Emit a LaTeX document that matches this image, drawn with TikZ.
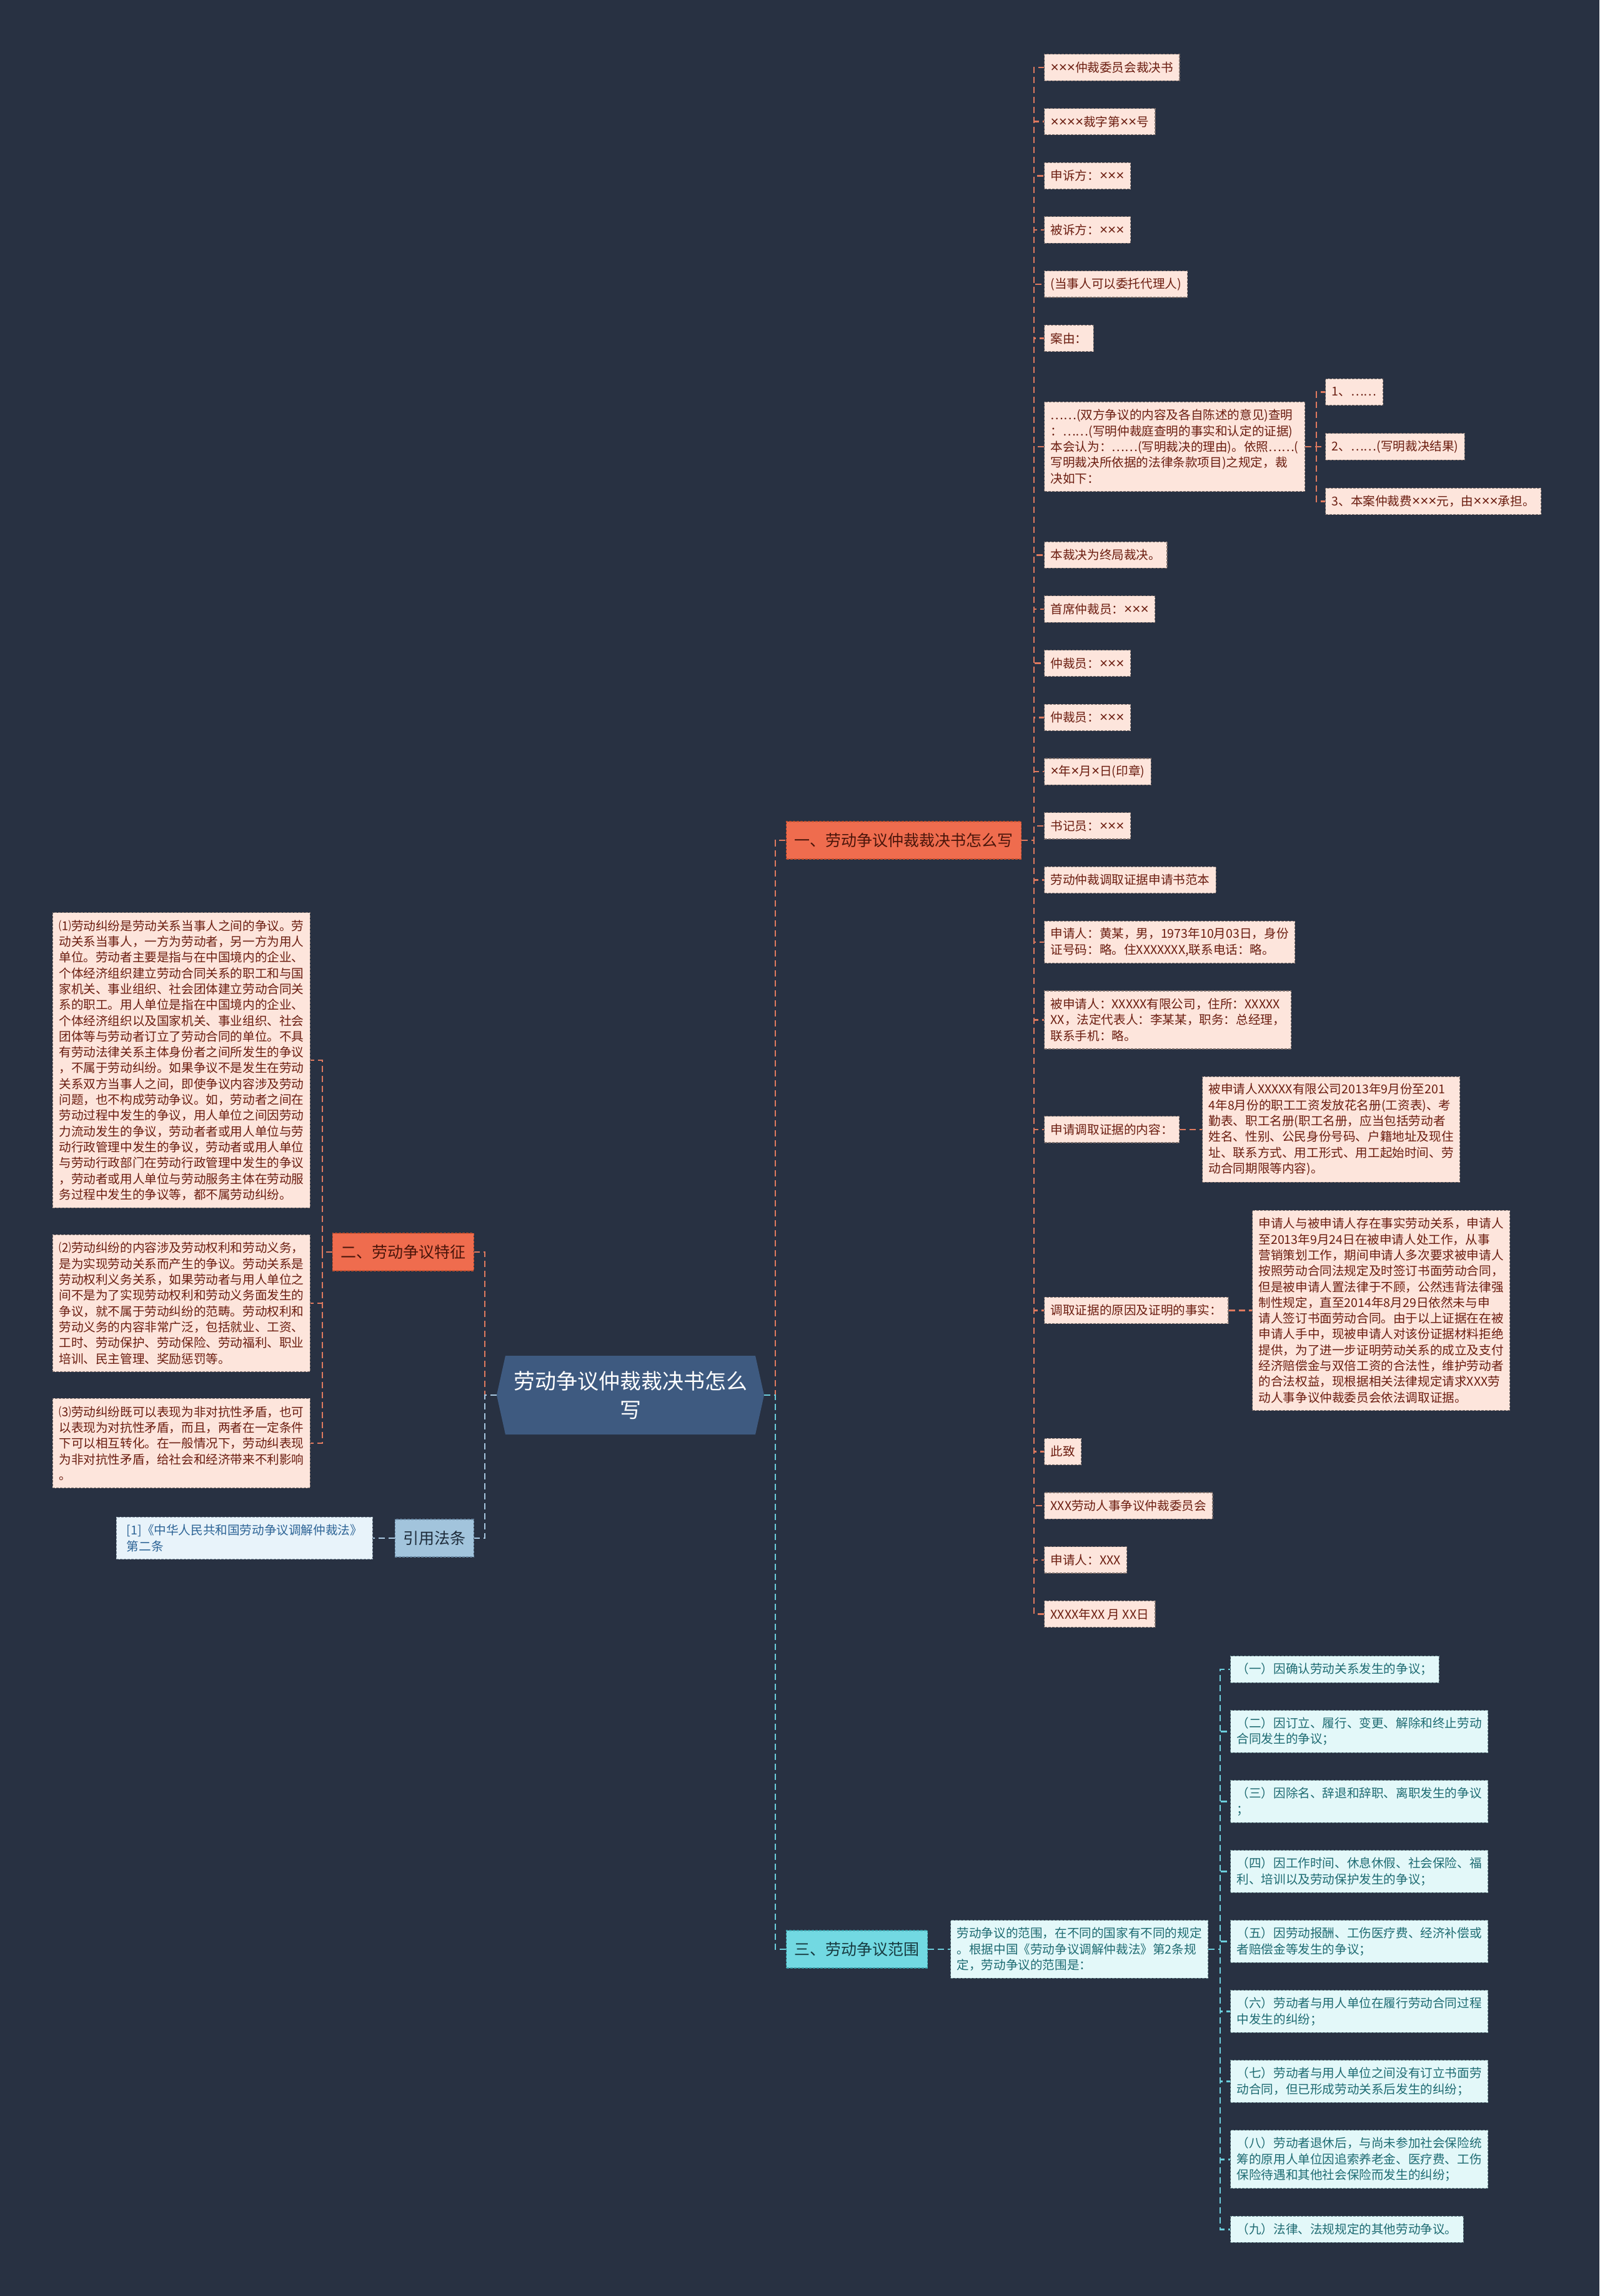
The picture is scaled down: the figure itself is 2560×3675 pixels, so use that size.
\documentclass[tikz,border=0pt]{standalone}
\usepackage{fontspec}
\setmainfont{Noto Sans CJK SC}
\newfontfamily\xf[Scale=1.15]{Liberation Sans}
\newcommand\X{{\xf ×}}
\usetikzlibrary{shapes.symbols}
\definecolor{bg}{HTML}{283142}
\definecolor{cR}{HTML}{E07A5F}
\definecolor{cC}{HTML}{6CCFDD}
\definecolor{cB}{HTML}{A9C9E2}
\definecolor{bonef}{HTML}{EF6C4E}
\definecolor{bonet}{HTML}{4A150A}
\definecolor{boned}{HTML}{C4502F}
\definecolor{lfR}{HTML}{FDE5DC}
\definecolor{txR}{HTML}{6B1D10}
\definecolor{bdR}{HTML}{7D6F6B}
\definecolor{bthf}{HTML}{72D9E2}
\definecolor{btht}{HTML}{173A40}
\definecolor{bthd}{HTML}{3C9FA8}
\definecolor{lfC}{HTML}{E3F8F9}
\definecolor{txC}{HTML}{1E6B72}
\definecolor{bdC}{HTML}{6E8E92}
\definecolor{rootf}{HTML}{3E5A80}
\definecolor{reff}{HTML}{A2C4DC}
\definecolor{reft}{HTML}{1D2B3A}
\definecolor{refd}{HTML}{6B8BA6}
\definecolor{rcf}{HTML}{E8F3FA}
\definecolor{rct}{HTML}{2D6496}
\definecolor{rcd}{HTML}{8A9AA8}
\begin{document}
\begin{tikzpicture}[x=1pt,y=-1pt,
  leaf/.style={line width=1.2pt, dash pattern=on 4pt off 2pt, inner xsep=10pt, inner ysep=0pt, align=left, anchor=west, font=\fontsize{19.6pt}{25.3pt}\selectfont, minimum height=42.3pt},
  nl/.style={minimum height={#1*25.3pt+17pt}},
  leafR/.style={leaf, fill=lfR, text=txR, draw=bdR},
  leafC/.style={leaf, fill=lfC, text=txC, draw=bdC},
  leafB/.style={leaf, fill=rcf, text=rct, draw=rcd},
  branch/.style={line width=1.2pt, dash pattern=on 4pt off 2pt, inner xsep=13pt, minimum height=60pt, font=\fontsize{25pt}{30pt}\selectfont},
  conR/.style={draw=cR, line width=2.5pt, dash pattern=on 10pt off 6pt},
  conC/.style={draw=cC, line width=2.5pt, dash pattern=on 10pt off 6pt},
  conB/.style={draw=cB, line width=2.5pt, dash pattern=on 10pt off 6pt}
]
\fill[bg] (0,0) rectangle (2560,3675);
\useasboundingbox (0,0) rectangle (2560,3675);

% root
\node[signal, signal to=west and east, signal pointer angle=155, minimum width=428pt, minimum height=126pt, fill=rootf, text=white, align=center, font=\fontsize{34pt}{46pt}\selectfont] (root) at (1009,2233) {劳动争议仲裁裁决书怎么\\写};

% branches
\node[branch, fill=bonef, text=bonet, draw=boned, anchor=west] (b1) at (1258,1345) {一、劳动争议仲裁裁决书怎么写};
\node[branch, fill=bonef, text=bonet, draw=boned, anchor=east] (b2) at (759,2004) {二、劳动争议特征};
\node[branch, fill=bthf, text=btht, draw=bthd, anchor=west] (b3) at (1258,3120) {三、劳动争议范围};
\node[branch, fill=reff, text=reft, draw=refd, anchor=east] (ref) at (759,2462) {引用法条};

% branch 1 leaves
\node[leafR] (n1) at (1671,108) {\X\X\X 仲裁委员会裁决书};
\node[leafR] (n2) at (1671,194.7) {\X\X\X\X 裁字第\X\X 号};
\node[leafR] (n3) at (1671,281.4) {申诉方：\X\X\X};
\node[leafR] (n4) at (1671,368) {被诉方：\X\X\X};
\node[leafR] (n5) at (1671,454.8) {(当事人可以委托代理人)};
\node[leafR] (n6) at (1671,541.5) {案由：};
\node[leafR, nl=5] (n7) at (1671,715) {……(双方争议的内容及各自陈述的意见)查明\\：……(写明仲裁庭查明的事实和认定的证据)\\本会认为：……(写明裁决的理由)。依照……(\\写明裁决所依据的法律条款项目)之规定，裁\\决如下：};
\node[leafR] (n7a) at (2121,627.5) {1、……};
\node[leafR] (n7b) at (2121,715) {2、……(写明裁决结果)};
\node[leafR] (n7c) at (2121,802.5) {3、本案仲裁费\X\X\X 元，由\X\X\X 承担。};
\node[leafR] (n8) at (1671,888.3) {本裁决为终局裁决。};
\node[leafR] (n9) at (1671,975) {首席仲裁员：\X\X\X};
\node[leafR] (n10) at (1671,1061.7) {仲裁员：\X\X\X};
\node[leafR] (n11) at (1671,1148.4) {仲裁员：\X\X\X};
\node[leafR] (n12) at (1671,1235.1) {\X 年\X 月\X 日(印章)};
\node[leafR] (n13) at (1671,1321.8) {书记员：\X\X\X};
\node[leafR] (n14) at (1671,1408.5) {劳动仲裁调取证据申请书范本};
\node[leafR, nl=2] (n15) at (1671,1508) {申请人：黄某，男，1973年10月03日，身份\\证号码：略。住XXXXXXX,联系电话：略。};
\node[leafR, nl=3] (n16) at (1671,1632.5) {被申请人：XXXXX有限公司，住所：XXXXX\\XX，法定代表人：李某某，职务：总经理，\\联系手机：略。};
\node[leafR] (n17) at (1671,1807.8) {申请调取证据的内容：};
\node[leafR, nl=6] (n17a) at (1924,1807.8) {被申请人XXXXX有限公司2013年9月份至201\\4年8月份的职工工资发放花名册(工资表)、考\\勤表、职工名册(职工名册，应当包括劳动者\\姓名、性别、公民身份号码、户籍地址及现住\\址、联系方式、用工形式、用工起始时间、劳\\动合同期限等内容)。};
\node[leafR] (n18) at (1671,2097.5) {调取证据的原因及证明的事实：};
\node[leafR, nl=12] (n18a) at (2004,2097.5) {申请人与被申请人存在事实劳动关系，申请人\\至2013年9月24日在被申请人处工作，从事\\营销策划工作，期间申请人多次要求被申请人\\按照劳动合同法规定及时签订书面劳动合同，\\但是被申请人置法律于不顾，公然违背法律强\\制性规定，直至2014年8月29日依然未与申\\请人签订书面劳动合同。由于以上证据在在被\\申请人手中，现被申请人对该份证据材料拒绝\\提供，为了进一步证明劳动关系的成立及支付\\经济赔偿金与双倍工资的合法性，维护劳动者\\的合法权益，现根据相关法律规定请求XXX劳\\动人事争议仲裁委员会依法调取证据。};
\node[leafR] (n19) at (1671,2323.5) {此致};
\node[leafR] (n20) at (1671,2410.2) {XXX劳动人事争议仲裁委员会};
\node[leafR] (n21) at (1671,2496.9) {申请人：XXX};
\node[leafR] (n22) at (1671,2583.6) {XXXX年XX 月 XX日};

% branch 2 leaves
\node[leafR, anchor=east, nl=18] (l1) at (497,1697) {⑴劳动纠纷是劳动关系当事人之间的争议。劳\\动关系当事人，一方为劳动者，另一方为用人\\单位。劳动者主要是指与在中国境内的企业、\\个体经济组织建立劳动合同关系的职工和与国\\家机关、事业组织、社会团体建立劳动合同关\\系的职工。用人单位是指在中国境内的企业、\\个体经济组织以及国家机关、事业组织、社会\\团体等与劳动者订立了劳动合同的单位。不具\\有劳动法律关系主体身份者之间所发生的争议\\，不属于劳动纠纷。如果争议不是发生在劳动\\关系双方当事人之间，即使争议内容涉及劳动\\问题，也不构成劳动争议。如，劳动者之间在\\劳动过程中发生的争议，用人单位之间因劳动\\力流动发生的争议，劳动者者或用人单位与劳\\动行政管理中发生的争议，劳动者或用人单位\\与劳动行政部门在劳动行政管理中发生的争议\\，劳动者或用人单位与劳动服务主体在劳动服\\务过程中发生的争议等，都不属劳动纠纷。};
\node[leafR, anchor=east, nl=8] (l2) at (497,2086) {⑵劳动纠纷的内容涉及劳动权利和劳动义务，\\是为实现劳动关系而产生的争议。劳动关系是\\劳动权利义务关系，如果劳动者与用人单位之\\间不是为了实现劳动权利和劳动义务面发生的\\争议，就不属于劳动纠纷的范畴。劳动权利和\\劳动义务的内容非常广泛，包括就业、工资、\\工时、劳动保护、劳动保险、劳动福利、职业\\培训、民主管理、奖励惩罚等。};
\node[leafR, anchor=east, nl=5] (l3) at (497,2310) {⑶劳动纠纷既可以表现为非对抗性矛盾，也可\\以表现为对抗性矛盾，而且，两者在一定条件\\下可以相互转化。在一般情况下，劳动纠表现\\为非对抗性矛盾，给社会和经济带来不利影响\\。};

% ref leaf
\node[leafB, anchor=east, nl=2, minimum width=410pt] (refc) at (597,2462) {[1]《中华人民共和国劳动争议调解仲裁法》\\第二条};

% branch 3 leaves
\node[leafC, nl=3] (s3) at (1521,3120) {劳动争议的范围，在不同的国家有不同的规定\\。根据中国《劳动争议调解仲裁法》第2条规\\定，劳动争议的范围是：};
\node[leafC] (c1) at (1969,2672) {（一）因确认劳动关系发生的争议；};
\node[leafC, nl=2] (c2) at (1969,2771.4) {（二）因订立、履行、变更、解除和终止劳动\\合同发生的争议；};
\node[leafC, nl=2] (c3) at (1969,2883.6) {（三）因除名、辞退和辞职、离职发生的争议\\；};
\node[leafC, nl=2] (c4) at (1969,2995.6) {（四）因工作时间、休息休假、社会保险、福\\利、培训以及劳动保护发生的争议；};
\node[leafC, nl=2] (c5) at (1969,3107.6) {（五）因劳动报酬、工伤医疗费、经济补偿或\\者赔偿金等发生的争议；};
\node[leafC, nl=2] (c6) at (1969,3219.6) {（六）劳动者与用人单位在履行劳动合同过程\\中发生的纠纷；};
\node[leafC, nl=2] (c7) at (1969,3331.6) {（七）劳动者与用人单位之间没有订立书面劳\\动合同，但已形成劳动关系后发生的纠纷；};
\node[leafC, nl=3] (c8) at (1969,3456.3) {（八）劳动者退休后，与尚未参加社会保险统\\筹的原用人单位因追索养老金、医疗费、工伤\\保险待遇和其他社会保险而发生的纠纷；};
\node[leafC] (c9) at (1969,3568.3) {（九）法律、法规规定的其他劳动争议。};

% junction coordinates
\coordinate (vR) at (1241,2233);
\coordinate (vLL) at (776,2233);
\coordinate (v1) at (1655,1345);
\coordinate (v7) at (2107,715);
\coordinate (vL) at (516,2004);
\coordinate (v3) at (1953,3120);

% connectors
\draw[conR] (root.east) -- (vR) |- (b1.west);
\draw[conC] (root.east) -- (vR) |- (b3.west);
\draw[conR] (root.west) -- (vLL) |- (b2.east);
\draw[conB] (root.west) -- (vLL) |- (ref.east);
\foreach \i in {1,...,22} \draw[conR] (b1.east) -- (v1) |- (n\i.west);
\foreach \i in {a,b,c} \draw[conR] (n7.east) -- (v7) |- (n7\i.west);
\draw[conR] (n17.east) -- (n17a.west);
\draw[conR] (n18.east) -- (n18a.west);
\foreach \i in {1,2,3} \draw[conR] (b2.west) -- (vL) |- (l\i.east);
\draw[conB] (ref.west) -- (refc.east);
\draw[conC] (b3.east) -- (s3.west);
\foreach \i in {1,...,9} \draw[conC] (s3.east) -- (v3) |- (c\i.west);
\end{tikzpicture}
\end{document}
